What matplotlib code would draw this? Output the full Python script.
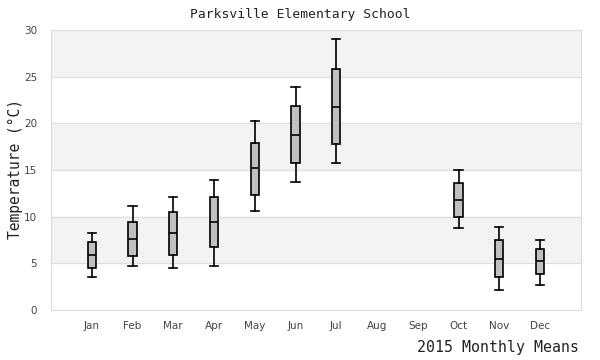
import matplotlib.pyplot as plt

months = ["Jan", "Feb", "Mar", "Apr", "May", "Jun", "Jul", "Aug", "Sep", "Oct", "Nov", "Dec"]
# low whisker, q1, median, q3, high whisker (None = no data)
whislo = [3.5, 4.7, 4.5, 4.7, 10.6, 13.7, 15.7, None, None, 8.75, 2.1, 2.65]
q1 = [4.5, 5.75, 5.85, 6.7, 12.3, 15.7, 17.75, None, None, 9.95, 3.5, 3.8]
med = [5.85, 7.6, 8.2, 9.4, 15.2, 18.7, 21.75, None, None, 11.75, 5.45, 5.25]
q3 = [7.25, 9.4, 10.45, 12.05, 17.9, 21.8, 25.8, None, None, 13.55, 7.45, 6.5]
whishi = [8.2, 11.1, 12.05, 13.9, 20.25, 23.85, 29.0, None, None, 14.95, 8.85, 7.45]

stats = []
positions = []
for i in range(len(months)):
    if med[i] is None:
        continue
    stats.append({"whislo": whislo[i], "q1": q1[i], "med": med[i],
                  "q3": q3[i], "whishi": whishi[i], "fliers": []})
    positions.append(i + 1)

fig = plt.figure(figsize=(6, 3.6), dpi=100)
ax = fig.add_axes([0.085, 0.139, 0.883, 0.778])

# alternating bands
for lo in range(0, 30, 5):
    if (lo // 5) % 2 == 1:
        ax.axhspan(lo, lo + 5, color="#f3f3f3", zorder=0, lw=0)
for y in range(5, 30, 5):
    ax.axhline(y, color="#e0e0e0", lw=1, zorder=1)

lw = 1.2
ax.bxp(stats, positions=positions, widths=0.2, patch_artist=True, showfliers=False,
       boxprops=dict(facecolor="#c0c0c0", edgecolor="black", linewidth=lw),
       medianprops=dict(color="black", linewidth=lw),
       whiskerprops=dict(color="black", linewidth=lw),
       capprops=dict(color="black", linewidth=lw),
       capwidths=0.2, zorder=3)

ax.set_xlim(0, 13)
ax.set_ylim(0, 30)
ax.set_xticks(range(1, 13))
ax.set_xticklabels(months)
ax.set_yticks(range(0, 31, 5))
ax.tick_params(length=0, labelsize=7.5, colors="#444444", pad=8)
ax.tick_params(axis="y", pad=10)
for s in ax.spines.values():
    s.set_color("#dddddd")

fig.text(0.5, 0.96, "Parksville Elementary School", ha="center", va="center",
         family="DejaVu Sans Mono", fontsize=9.4, color="#222222")
fig.text(0.965, 0.035, "2015 Monthly Means", ha="right", va="center",
         family="DejaVu Sans Mono", fontsize=10.7, color="#222222")
fig.text(0.026, 0.53, "Temperature (°C)", ha="center", va="center", rotation=90,
         family="DejaVu Sans Mono", fontsize=10.5, color="#222222")

fig.savefig("out.png", dpi=100)
